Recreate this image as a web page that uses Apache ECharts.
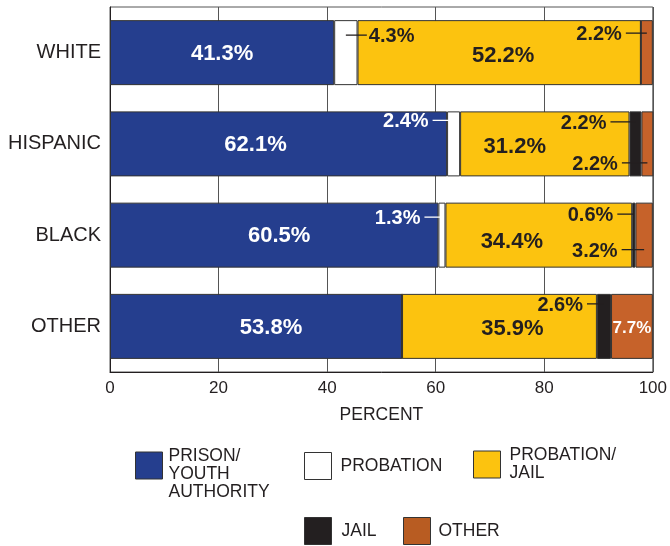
<!DOCTYPE html>
<html>
<head>
<meta charset="utf-8">
<script src="https://cdn.jsdelivr.net/npm/echarts@6/dist/echarts.min.js"></script>
<style>
html,body{margin:0;padding:0;background:#fff;}
#c{width:670px;height:546px;}
</style>
</head>
<body>
<div id="c"></div>
<script>
// ---- data ----
const categories = ['WHITE', 'HISPANIC', 'BLACK', 'OTHER'];
const seriesNames = ['PRISON/YOUTH AUTHORITY', 'PROBATION', 'PROBATION/JAIL', 'JAIL', 'OTHER'];
const prison = [41.3, 62.1, 60.5, 53.8];
const probation = [4.3, 2.4, 1.3, 0];
const probationJail = [52.2, 31.2, 34.4, 35.9];
const jail = [0, 2.2, 0.6, 2.6];
const other = [2.2, 2.2, 3.2, 7.7];
const xTicks = [0, 20, 40, 60, 80, 100];
const xTitle = 'PERCENT';
// small segments labelled with leader lines: [category index, series index]
const annotated = [[0, 1], [0, 4], [1, 1], [1, 3], [1, 4], [2, 1], [2, 3], [2, 4], [3, 3]];

// ---- styles / layout ----
const FONT = '"Liberation Sans", Arial, Helvetica, sans-serif';
const INK = '#231F20';
const colors = ['#253E8E', '#FFFFFF', '#FCC30F', '#231F20', '#C6622A'];
const legendColors = ['#253E8E', '#FFFFFF', '#FCC30F', '#231F20', '#B85C22'];
const prisonOffsets = [[0, 1], [-23, 1], [5, 1], [15, 2]];
const probJailOffsets = [[4, 3], [-30, 3], [-27, 7], [13, 3]];
const annLayout = [
  {dx: 23, dy: -16, c: INK},
  {dx: -25, dy: -18, c: INK},
  {dx: -25, dy: -22, c: '#FFFFFF'},
  {dx: -29, dy: -20.5, c: INK},
  {dx: -29.5, dy: 20.5, c: INK},
  {dx: -21.5, dy: -16.5, c: '#FFFFFF'},
  {dx: -20.5, dy: -19.5, c: INK},
  {dx: -26.5, dy: 16, c: INK},
  {dx: -21, dy: -21, c: INK}
];

const allSeries = [prison, probation, probationJail, jail, other];

const chart = echarts.init(document.getElementById('c'), null, {renderer: 'canvas'});

const bigLabel = (color, size) => ({
  show: true, position: 'inside', color: color, fontFamily: FONT,
  fontWeight: 'bold', fontSize: size, formatter: p => p.value + '%'
});

const barBase = {
  type: 'bar', stack: 'total', barWidth: 65,
  emphasis: {disabled: true}, animation: false
};

const annData = annotated.map(([ci, si]) => {
  let start = 0;
  for (let k = 0; k < si; k++) start += allSeries[k][ci];
  return [ci, start, allSeries[si][ci]];
});

const legendDefs = [
  {i: 0, left: 135, top: 429.5, text: '\nPRISON/\nYOUTH\nAUTHORITY', pad: [0, 0, 0, 1]},
  {i: 1, left: 304, top: 452, text: 'PROBATION', pad: [0, 0, 0, 4]},
  {i: 2, left: 473, top: 446.5, text: 'PROBATION/\nJAIL', pad: [0, 0, 0, 4]},
  {i: 3, left: 304, top: 517, text: 'JAIL', pad: [0, 0, 0, 5]},
  {i: 4, left: 403, top: 517, text: 'OTHER', pad: [0, 0, 0, 3]}
];

const option = {
  backgroundColor: '#fff',
  animation: false,
  grid: {left: 110, right: 14, top: 7, bottom: 174, show: true, borderColor: '#555', borderWidth: 1},
  xAxis: {
    type: 'value', min: 0, max: 100, interval: 20,
    name: xTitle, nameLocation: 'middle', nameGap: 34,
    nameTextStyle: {fontFamily: FONT, fontSize: 17.5, color: INK},
    axisLine: {show: true, lineStyle: {color: INK, width: 1}},
    axisTick: {show: false},
    axisLabel: {fontFamily: FONT, fontSize: 17, color: INK, margin: 8,
      formatter: v => xTicks.includes(v) ? String(v) : ''},
    splitLine: {show: true, lineStyle: {color: '#555', width: 1}}
  },
  yAxis: {
    type: 'category', data: categories, inverse: true,
    axisLine: {show: true, lineStyle: {color: INK, width: 1}},
    axisTick: {show: false},
    axisLabel: {fontFamily: FONT, fontSize: 20, color: INK, margin: 9},
    splitLine: {show: false}
  },
  legend: legendDefs.map(d => ({
    left: d.left, top: d.top, orient: 'horizontal', selectedMode: false,
    icon: 'rect', itemWidth: 27, itemHeight: 27, padding: 0, itemGap: 0,
    data: [{name: seriesNames[d.i], itemStyle: {color: legendColors[d.i], borderColor: '#333', borderWidth: 1}}],
    formatter: () => d.text,
    textStyle: {fontFamily: FONT, fontSize: 17.5, lineHeight: 18, color: INK, padding: d.pad}
  })),
  series: [
    Object.assign({}, barBase, {
      name: seriesNames[0], itemStyle: {color: colors[0], borderColor: '#333', borderWidth: 1},
      data: prison.map((v, i) => ({value: v, label: Object.assign(bigLabel('#fff', 22), {offset: prisonOffsets[i]})}))
    }),
    Object.assign({}, barBase, {
      name: seriesNames[1], itemStyle: {color: colors[1], borderColor: '#333', borderWidth: 1},
      data: probation.slice()
    }),
    Object.assign({}, barBase, {
      name: seriesNames[2], itemStyle: {color: colors[2], borderColor: '#333', borderWidth: 1},
      data: probationJail.map((v, i) => ({value: v, label: Object.assign(bigLabel(INK, 22), {offset: probJailOffsets[i]})}))
    }),
    Object.assign({}, barBase, {
      name: seriesNames[3], itemStyle: {color: colors[3], borderColor: '#333', borderWidth: 1},
      data: jail.slice()
    }),
    Object.assign({}, barBase, {
      name: seriesNames[4], itemStyle: {color: colors[4], borderColor: '#333', borderWidth: 1},
      data: other.map((v, i) => i === 3 ? {value: v, label: Object.assign(bigLabel('#fff', 17), {offset: [0, 2]})} : v)
    }),
    {
      type: 'custom', name: 'annotations', silent: true, z: 10, animation: false,
      data: annData,
      renderItem: function (params, api) {
        const L = annLayout[params.dataIndex];
        const cat = api.value(0), start = api.value(1), val = api.value(2);
        const p = api.coord([start + val / 2, cat]);
        const tx = p[0] + L.dx, ty = p[1] + L.dy;
        const right = L.dx < 0;
        const x1 = right ? tx + 4 : p[0];
        const x2 = right ? p[0] : tx - 2;
        const ly = ty - 1.5;
        return {
          type: 'group',
          children: [
            {type: 'line', shape: {x1: x1, y1: ly, x2: x2, y2: ly}, style: {stroke: L.c, lineWidth: 1.3}},
            {type: 'text', style: {x: tx, y: ty, text: val + '%', align: right ? 'right' : 'left',
              verticalAlign: 'middle', fill: L.c, fontFamily: FONT, fontWeight: 'bold', fontSize: 20}}
          ]
        };
      }
    }
  ]
};
chart.setOption(option);
</script>
</body>
</html>
